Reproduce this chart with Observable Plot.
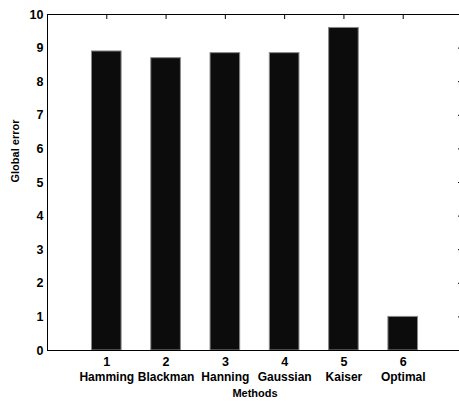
<!DOCTYPE html>
<html>
<head>
<meta charset="utf-8">
<script src="https://cdn.jsdelivr.net/npm/d3@7"></script>
<script src="https://cdn.jsdelivr.net/npm/@observablehq/plot@0.6"></script>
<style>
  html, body { margin: 0; padding: 0; background: #fff; }
  #chart { width: 459px; height: 401px; overflow: hidden; }
</style>
</head>
<body>
<div id="chart"></div>
<script>
const methodIds = [1, 2, 3, 4, 5, 6];
const methodNames = ["Hamming", "Blackman", "Hanning", "Gaussian", "Kaiser", "Optimal"];
const globalError = [8.9, 8.7, 8.85, 8.85, 9.6, 1.0];
const yTicks = [0, 1, 2, 3, 4, 5, 6, 7, 8, 9, 10];

const data = methodIds.map((id, i) => ({id, name: methodNames[i], value: globalError[i]}));
const nameOf = new Map(methodIds.map((id, i) => [id, methodNames[i]]));
const halfWidth = 0.25;

const font = "'Liberation Sans', Arial, Helvetica, sans-serif";

const chart = Plot.plot({
  width: 459,
  height: 401,
  marginLeft: 47,
  marginRight: -3,
  marginTop: 14,
  marginBottom: 51,
  style: {fontFamily: font, background: "#fff", color: "#000"},
  x: {type: "linear", domain: [0, 7]},
  y: {domain: [0, 10]},
  marks: [
    Plot.rectY(data, {
      x1: d => d.id - halfWidth,
      x2: d => d.id + halfWidth,
      y1: 0,
      y2: "value",
      fill: "#0c0c0c",
      stroke: "#8a8a8a",
      strokeWidth: 1
    }),
    Plot.frame({stroke: "#000", strokeWidth: 1}),
    Plot.axisY({anchor: "left", ticks: yTicks, tickSize: 0, tickPadding: 4, tickFormat: d => String(d), label: null, fontSize: 12.5, fontWeight: "bold", fill: "#000"}),
    Plot.axisY({anchor: "right", ticks: yTicks, tickSize: -5, tickFormat: () => "", label: null, stroke: "#000"}),
    Plot.axisX({anchor: "top", ticks: methodIds, tickSize: -4, tickFormat: () => "", label: null, stroke: "#000"}),
    Plot.axisX({anchor: "bottom", ticks: methodIds, tickSize: 0, tickPadding: 7, tickFormat: d => String(d), label: null, fontSize: 12.5, fontWeight: "bold", fill: "#000"}),
    Plot.axisX({anchor: "bottom", ticks: methodIds, tickSize: 0, tickPadding: 22, tickFormat: d => nameOf.get(d), label: null, fontSize: 12, fontWeight: "bold", fill: "#000"}),
    Plot.text(["Methods"], {frameAnchor: "bottom", lineAnchor: "top", dy: 39, fontSize: 11, fontWeight: "bold", fill: "#000"}),
    Plot.text(["Global error"], {frameAnchor: "left", rotate: -90, dx: -32, fontSize: 11, fontWeight: "bold", fill: "#000"})
  ]
});
document.getElementById("chart").appendChild(chart);
</script>
</body>
</html>
